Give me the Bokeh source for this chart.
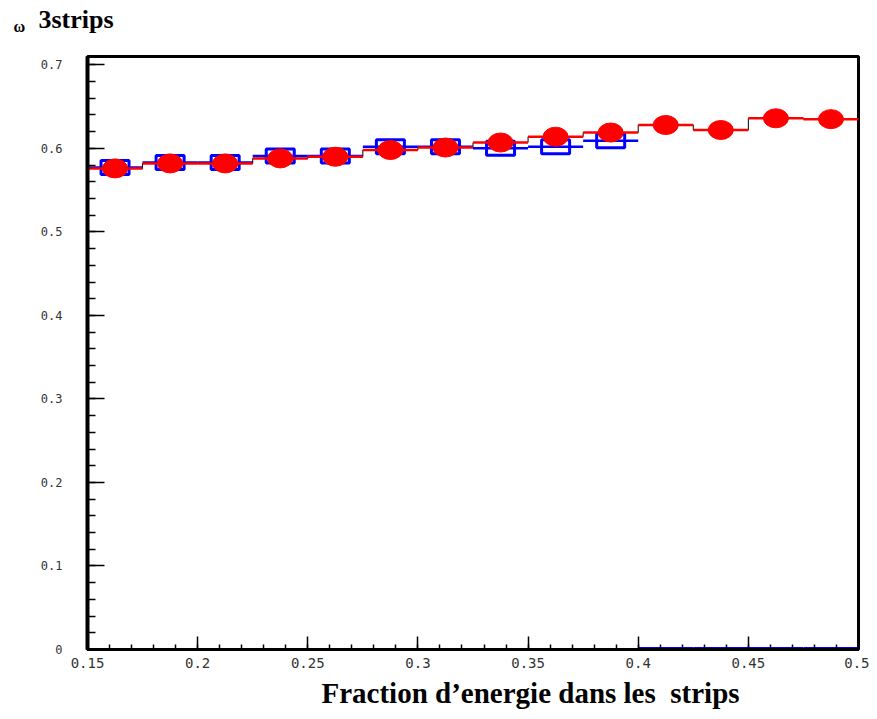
from bokeh.plotting import figure
from bokeh.models import Range1d, FixedTicker, CustomJSTickFormatter, Label, Title
from bokeh.embed import file_html
from bokeh.resources import INLINE
import numpy as np

# ---- data ----
bin_edges = [0.15, 0.175, 0.2, 0.225, 0.25, 0.275, 0.3, 0.325, 0.35, 0.375,
             0.4, 0.425, 0.45, 0.475, 0.5]
red_values = [0.576, 0.582, 0.582, 0.588, 0.590, 0.598, 0.601, 0.607, 0.614,
              0.619, 0.628, 0.622, 0.636, 0.635]
blue_values = [0.577, 0.583, 0.583, 0.591, 0.591, 0.602, 0.602, 0.600, 0.602,
               0.609, 0.0, 0.0, 0.0, 0.0]
x_major_ticks = [0.15, 0.2, 0.25, 0.3, 0.35, 0.4, 0.45, 0.5]
x_minor_ticks = [round(0.15 + 0.01 * i, 3) for i in range(36)]
y_major_ticks = [0, 0.1, 0.2, 0.3, 0.4, 0.5, 0.6, 0.7]
y_minor_ticks = [round(0.02 * i, 3) for i in range(36)]
title_symbol = "ω"
title_text = "3strips"
xlabel_text = "Fraction d\u2019energie dans les\u00a0\u00a0strips"

edges = np.array(bin_edges)
left = edges[:-1]
right = edges[1:]
centers = (left + right) / 2
red = np.array(red_values)
blue = np.array(blue_values)

p = figure(frame_width=771, frame_height=593, output_backend="svg",
           toolbar_location=None,
           x_range=Range1d(0.15, 0.5), y_range=Range1d(0, 0.71),
           min_border_left=87, min_border_right=11, min_border_top=55,
           min_border_bottom=63)
p.background_fill_color = "white"
p.border_fill_color = "white"
p.outline_line_color = "black"
p.outline_line_width = 3
p.xgrid.visible = False
p.ygrid.visible = False

fmt = CustomJSTickFormatter(code="return (Math.round(tick*100)/100).toString();")

p.xaxis.ticker = FixedTicker(ticks=x_major_ticks, minor_ticks=x_minor_ticks)
p.yaxis.ticker = FixedTicker(ticks=y_major_ticks, minor_ticks=y_minor_ticks)
p.xaxis.formatter = fmt
p.yaxis.formatter = fmt

for ax in (p.xaxis, p.yaxis):
    ax.major_tick_out = 0
    ax.minor_tick_out = 0
    ax.major_tick_line_color = "black"
    ax.minor_tick_line_color = "black"
    ax.major_tick_line_width = 1.5
    ax.minor_tick_line_width = 1.5
    ax.axis_line_color = "black"
    ax.major_label_text_color = "#333333"
    ax.major_label_text_font = "DejaVu Sans Mono"

p.yaxis.axis_line_width = 4
p.xaxis.axis_line_width = 3
p.yaxis.major_tick_in = 17
p.yaxis.minor_tick_in = 8
p.xaxis.major_tick_in = 13
p.xaxis.minor_tick_in = 5
p.yaxis.major_label_text_font_size = "12px"
p.xaxis.major_label_text_font_size = "14px"
p.yaxis.major_label_standoff = 25
p.xaxis.major_label_standoff = 8

# blue histogram
p.segment(x0=left, y0=blue, x1=right, y1=blue, line_color="blue",
          line_width=np.where(blue > 0, 2.5, 5))
nz = blue > 0
p.rect(x=centers[nz], y=blue[nz], width=28, height=14, width_units="screen",
       height_units="screen", fill_alpha=0, line_color="blue", line_width=3)

# black step outline (shows at bin edges)
p.step(x=list(edges), y=list(red) + [red[-1]], mode="after", line_color="black",
       line_width=1)

# red histogram
p.segment(x0=left, y0=red, x1=right, y1=red, line_color="red", line_width=2.5)
p.ellipse(x=centers, y=red, width=25, height=19, width_units="screen",
          height_units="screen", fill_color="red", line_color="red")

# title
p.title = Title(text=title_text, align="left", offset=-49, standoff=8,
                vertical_align="top",
                text_font="Liberation Serif", text_font_size="26px",
                text_font_style="bold", text_color="black")
p.add_layout(Label(x=-74, y=30, x_units="screen", y_units="screen",
                   text=title_symbol, text_font="Liberation Serif",
                   text_font_size="16px", text_font_style="bold",
                   text_color="black", text_baseline="alphabetic"), "above")
# x label
p.add_layout(Title(text=xlabel_text, align="left", offset=234, standoff=8,
                   text_font="Liberation Serif", text_font_size="29px",
                   text_font_style="bold", text_color="black"), "below")

open("out.html", "w").write(file_html(p, INLINE))
